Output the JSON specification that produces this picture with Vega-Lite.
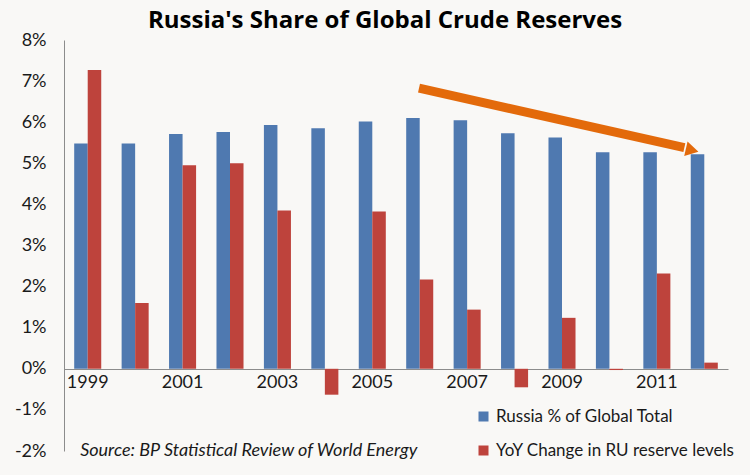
{
  "$schema": "https://vega.github.io/schema/vega-lite/v6.json",
  "autosize": "none",
  "width": 664,
  "height": 411,
  "padding": {"left": 64, "top": 40, "right": 22, "bottom": 24},
  "background": "#F9F8F6",
  "title": {
    "text": "Russia's Share of Global Crude Reserves",
    "font": "Open Sans",
    "fontSize": 24,
    "fontWeight": "bold",
    "color": "#000000",
    "anchor": "middle",
    "dx": -11,
    "offset": -2
  },
  "layer": [
    {
      "data": {
        "values": [
          {"year": "1999", "series": "Russia % of Global Total", "value": 5.48},
          {"year": "1999", "series": "YoY Change in RU reserve levels", "value": 7.27},
          {"year": "2000", "series": "Russia % of Global Total", "value": 5.48},
          {"year": "2000", "series": "YoY Change in RU reserve levels", "value": 1.6},
          {"year": "2001", "series": "Russia % of Global Total", "value": 5.71},
          {"year": "2001", "series": "YoY Change in RU reserve levels", "value": 4.95},
          {"year": "2002", "series": "Russia % of Global Total", "value": 5.76},
          {"year": "2002", "series": "YoY Change in RU reserve levels", "value": 5.0},
          {"year": "2003", "series": "Russia % of Global Total", "value": 5.93},
          {"year": "2003", "series": "YoY Change in RU reserve levels", "value": 3.85},
          {"year": "2004", "series": "Russia % of Global Total", "value": 5.85},
          {"year": "2004", "series": "YoY Change in RU reserve levels", "value": -0.63},
          {"year": "2005", "series": "Russia % of Global Total", "value": 6.02},
          {"year": "2005", "series": "YoY Change in RU reserve levels", "value": 3.83},
          {"year": "2006", "series": "Russia % of Global Total", "value": 6.1},
          {"year": "2006", "series": "YoY Change in RU reserve levels", "value": 2.17},
          {"year": "2007", "series": "Russia % of Global Total", "value": 6.05},
          {"year": "2007", "series": "YoY Change in RU reserve levels", "value": 1.44},
          {"year": "2008", "series": "Russia % of Global Total", "value": 5.73},
          {"year": "2008", "series": "YoY Change in RU reserve levels", "value": -0.45},
          {"year": "2009", "series": "Russia % of Global Total", "value": 5.63},
          {"year": "2009", "series": "YoY Change in RU reserve levels", "value": 1.24},
          {"year": "2010", "series": "Russia % of Global Total", "value": 5.27},
          {"year": "2010", "series": "YoY Change in RU reserve levels", "value": -0.03},
          {"year": "2011", "series": "Russia % of Global Total", "value": 5.27},
          {"year": "2011", "series": "YoY Change in RU reserve levels", "value": 2.32},
          {"year": "2012", "series": "Russia % of Global Total", "value": 5.22},
          {"year": "2012", "series": "YoY Change in RU reserve levels", "value": 0.15}
        ]
      },
      "mark": {"type": "bar"},
      "encoding": {
        "x": {
          "field": "year",
          "type": "nominal",
          "scale": {"paddingInner": 0.43, "paddingOuter": 0.215},
          "axis": {
            "title": null,
            "values": ["1999", "2001", "2003", "2005", "2007", "2009", "2011"],
            "labelAngle": 0,
            "labelFont": "Lato",
            "labelFontSize": 18,
            "labelColor": "#1a1a1a",
            "labelPadding": 4,
            "ticks": false,
            "domainColor": "#8c8c8c",
            "offset": -82
          }
        },
        "xOffset": {"field": "series", "type": "nominal", "sort": ["Russia % of Global Total", "YoY Change in RU reserve levels"]},
        "y": {
          "field": "value",
          "type": "quantitative",
          "scale": {"domain": [-2, 8], "nice": false},
          "axis": {
            "title": null,
            "values": [-2, -1, 0, 1, 2, 3, 4, 5, 6, 7, 8],
            "labelExpr": "datum.value + '%'",
            "labelFont": "Lato",
            "labelFontSize": 18,
            "labelColor": "#1a1a1a",
            "labelPadding": 18,
            "ticks": false,
            "grid": false,
            "domainColor": "#8c8c8c"
          }
        },
        "color": {
          "field": "series",
          "type": "nominal",
          "scale": {
            "domain": ["Russia % of Global Total", "YoY Change in RU reserve levels"],
            "range": ["#4F79B0", "#BE433C"]
          },
          "legend": {
            "title": null,
            "orient": "none",
            "legendX": 411,
            "legendY": 368,
            "symbolType": "square",
            "symbolSize": 100,
            "symbolStrokeWidth": 0,
            "labelFont": "Lato",
            "labelFontSize": 17,
            "labelColor": "#1a1a1a",
            "labelLimit": 400,
            "labelOffset": 4,
            "rowPadding": 16
          }
        }
      }
    },
    {
      "data": {
        "values": [
          {"ax": 7.485, "ay": 6.83},
          {"ax": 13.08, "ay": 5.38}
        ]
      },
      "mark": {"type": "line", "color": "#E36A0B", "strokeWidth": 9, "strokeCap": "butt"},
      "encoding": {
        "x": {"field": "ax", "type": "quantitative", "scale": {"domain": [0, 14], "nice": false}, "axis": null},
        "y": {"field": "ay", "type": "quantitative"}
      }
    },
    {
      "data": {"values": [{"ax": 13.2, "ay": 5.33}]},
      "mark": {"type": "point", "shape": "triangle", "filled": true, "color": "#E36A0B", "opacity": 1, "size": 220, "angle": 103},
      "encoding": {
        "x": {"field": "ax", "type": "quantitative", "scale": {"domain": [0, 14], "nice": false}, "axis": null},
        "y": {"field": "ay", "type": "quantitative"}
      }
    },
    {
      "data": {"values": [{"ax": 0.34, "ay": -2, "label": "Source: BP Statistical Review of World Energy"}]},
      "mark": {"type": "text", "align": "left", "baseline": "middle", "font": "Lato", "fontSize": 18, "fontStyle": "italic", "color": "#1a1a1a"},
      "encoding": {
        "x": {"field": "ax", "type": "quantitative", "scale": {"domain": [0, 14], "nice": false}, "axis": null},
        "y": {"field": "ay", "type": "quantitative"},
        "text": {"field": "label"}
      }
    }
  ],
  "resolve": {"scale": {"x": "independent"}},
  "config": {"view": {"stroke": null}}
}
